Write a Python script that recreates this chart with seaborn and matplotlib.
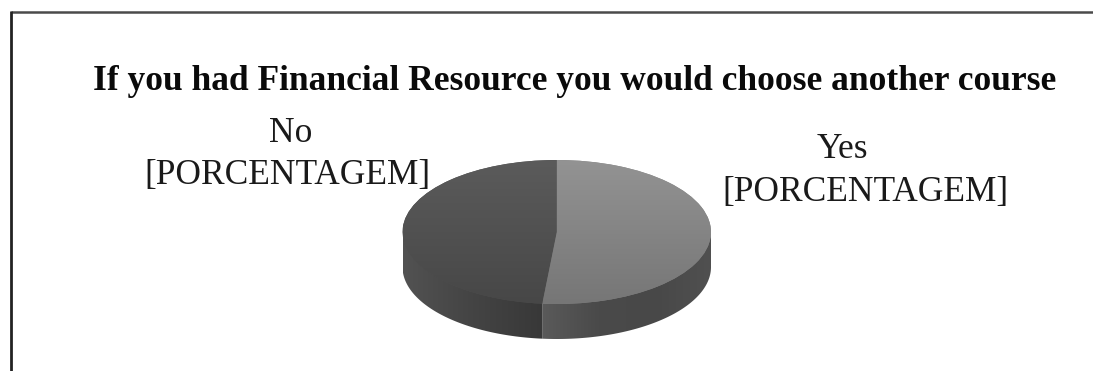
import numpy as np
import matplotlib
matplotlib.use("Agg")
import matplotlib.pyplot as plt
from matplotlib.patches import Polygon
import seaborn as sns

title = "If you had Financial Resource you would choose another course"
categories = ["Yes", "No"]
shares = [51.5, 48.5]
value_label = "[PORCENTAGEM]"

W, H = 1093, 371
sns.set_theme(style="white")
plt.rcParams["font.family"] = ["Liberation Serif", "DejaVu Serif"]

fig = plt.figure(figsize=(W / 100, H / 100), dpi=100, facecolor="white")

# Full-figure layer in pixel coordinates: outer frame and all text
bg = fig.add_axes([0, 0, 1, 1])
bg.set_xlim(0, W)
bg.set_ylim(H, 0)
bg.set_xticks([])
bg.set_yticks([])
for side in bg.spines.values():
    side.set_visible(False)
bg.plot([11, W], [12, 12], color="#4a4a4a", lw=1.8, solid_capstyle="butt")
bg.plot([11, 11], [H, 11], color="#222222", lw=2.0, solid_capstyle="butt")

bg.text(575, 81, title, ha="center", va="center", fontsize=25.5, fontweight="bold", color="#0a0a0a")

label_style = dict(ha="center", va="baseline", fontsize=25.5, color="#1a1a1a")
bg.text(291, 142, categories[1], **label_style)
bg.text(287.5, 184, value_label, **label_style)
bg.text(842.5, 158, categories[0], **label_style)
bg.text(865, 201, value_label, **label_style)

# Tilted pie: a unit circle squeezed into an ellipse by a non-equal axes box
left, right, top, bottom = 402.5, 711, 160, 342
rim_px = 72.0
depth = 35 / rim_px
ax = fig.add_axes([left / W, 1 - bottom / H, (right - left) / W, (bottom - top) / H])
ax.patch.set_alpha(0)

top_maps = [sns.blend_palette(["#939393", "#767676"], as_cmap=True),
            sns.blend_palette(["#5b5b5b", "#474747"], as_cmap=True)]
side_maps = [sns.blend_palette(["#5a5a5a", "#4a4a4a", "#484848", "#505050"], as_cmap=True),
             sns.blend_palette(["#525252", "#444444", "#383838"], as_cmap=True)]

wedges, _ = ax.pie(shares, startangle=90, counterclock=False, radius=1.0,
                   colors=["#858585", "#505050"], wedgeprops={"linewidth": 0})
ax.set_aspect("auto")
ymin = -(bottom - top) / rim_px + 1
extent_lims = dict(xlim=(-1, 1), ylim=(ymin, 1))

ramp_v = np.linspace(0, 1, 256).reshape(-1, 1)
ramp_h = np.linspace(0, 1, 256).reshape(1, -1)

for wedge, top_map, side_map in zip(wedges, top_maps, side_maps):
    lo, hi = sorted((wedge.theta1, wedge.theta2))
    # Rim runs along the part of the wedge's arc on the lower half of the circle
    arc_lo, arc_hi = None, None
    for shift in (-360, 0, 360):
        a, b = max(lo + shift, 180), min(hi + shift, 360)
        if b > a:
            arc_lo, arc_hi = a, b
    t = np.radians(np.linspace(arc_lo, arc_hi, 200))
    upper = np.column_stack([np.cos(t), np.sin(t)]) + [0, 0.03]
    lower = upper[::-1] - [0, depth + 0.03]
    rim = Polygon(np.vstack([upper, lower]), closed=True, transform=ax.transData,
                  facecolor="none", edgecolor="none")
    ax.add_patch(rim)
    x0, x1 = np.cos(t[0]), np.cos(t[-1])
    im = ax.imshow(ramp_h, cmap=side_map, aspect="auto", vmin=0, vmax=1,
                   extent=(x0, x1, -1 - depth, 0.03), zorder=0.5)
    im.set_clip_path(rim)

    shade = ax.imshow(ramp_v, cmap=top_map, aspect="auto", vmin=0, vmax=1,
                      extent=(-1, 1, -1, 1), zorder=2)
    shade.set_clip_path(wedge)

ax.set(**extent_lims)
ax.set_axis_off()

fig.savefig("out.png", dpi=100, facecolor="white")
